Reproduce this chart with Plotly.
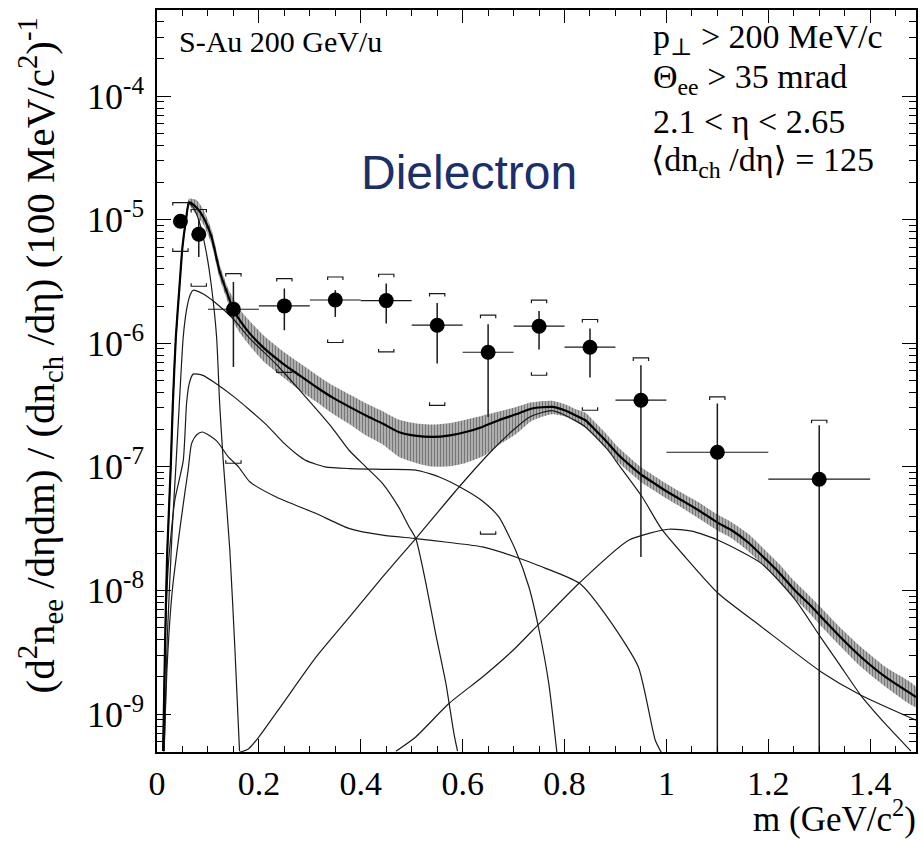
import plotly.graph_objects as go

# ---------------- data ----------------
# measured dielectron yield, values given as log10
mass = [0.046, 0.082, 0.15, 0.25, 0.35, 0.45, 0.55, 0.65, 0.75, 0.85, 0.95, 1.1, 1.3]
mass_halfwidth = [0, 0, 0.05, 0.05, 0.05, 0.05, 0.05, 0.05, 0.05, 0.05, 0.05, 0.1, 0.1]
yield_log10 = [-5.013, -5.118, -5.725, -5.698, -5.650, -5.655, -5.854, -6.073,
               -5.862, -6.032, -6.461, -6.882, -7.100]
stat_hi_log10 = [-5.013, -4.99, -5.504, -5.557, -5.571, -5.517, -5.674, -5.846,
                 -5.739, -5.881, -6.178, -6.488, -6.663]
stat_lo_log10 = [-5.013, -5.302, -6.192, -5.895, -5.787, -5.841, -6.164, -6.596,
                 -6.051, -6.278, -7.729, -10.0, -10.0]
sys_hi_log10 = [-4.862, -4.918, -5.436, -5.477, -5.464, -5.442, -5.598, -5.773,
                -5.652, -5.808, -6.119, -6.434, -6.623]
sys_lo_log10 = [-5.256, -5.539, -6.971, -6.235, -5.994, -6.070, -6.502, -7.545,
                -6.259, -6.542, None, None, None]

# total cocktail (thick line) and its shaded band
total_m = [0.012, 0.016, 0.02, 0.027, 0.031, 0.037, 0.044, 0.05, 0.057, 0.063,
           0.077, 0.091, 0.107, 0.123, 0.14, 0.149, 0.165, 0.182, 0.21, 0.247,
           0.28, 0.3125, 0.345, 0.378, 0.41, 0.443, 0.4755, 0.51, 0.541, 0.575,
           0.606, 0.64, 0.671, 0.705, 0.736, 0.7756, 0.80, 0.82, 0.841, 0.86,
           0.88, 0.905, 0.932, 0.952, 0.975, 0.997, 1.03, 1.063, 1.102, 1.128,
           1.16, 1.193, 1.22, 1.252, 1.28, 1.304, 1.34, 1.382, 1.43, 1.49]
total_log10 = [-9.3, -8.4, -7.7, -7.0, -6.5, -5.95, -5.55, -5.22, -5.0, -4.86,
               -4.90, -4.98, -5.14, -5.42, -5.62, -5.72, -5.83, -5.92, -6.04, -6.164,
               -6.26, -6.354, -6.44, -6.515, -6.585, -6.65, -6.72, -6.75, -6.758, -6.745,
               -6.718, -6.675, -6.623, -6.575, -6.528, -6.515, -6.542, -6.58, -6.623, -6.70,
               -6.785, -6.90, -7.0, -7.068, -7.13, -7.189, -7.27, -7.351, -7.455, -7.513,
               -7.61, -7.74, -7.85, -7.998, -8.11, -8.214, -8.37, -8.538, -8.70, -8.862]
band_up_dex = [0.03, 0.03, 0.03, 0.03, 0.03, 0.03, 0.03, 0.03, 0.03, 0.03,
               0.06, 0.06, 0.06, 0.06, 0.06, 0.09, 0.09, 0.1, 0.1, 0.1,
               0.1, 0.1, 0.1, 0.1, 0.1, 0.1, 0.1, 0.1, 0.1, 0.1,
               0.1, 0.09, 0.07, 0.06, 0.05, 0.05, 0.05, 0.05, 0.06, 0.06,
               0.06, 0.06, 0.06, 0.06, 0.06, 0.06, 0.06, 0.065, 0.065, 0.065,
               0.07, 0.07, 0.07, 0.07, 0.07, 0.075, 0.075, 0.08, 0.08, 0.08]
band_dn_dex = [0.03, 0.03, 0.03, 0.03, 0.03, 0.03, 0.03, 0.03, 0.03, 0.03,
               0.06, 0.06, 0.06, 0.06, 0.06, 0.1, 0.1, 0.1, 0.11, 0.11,
               0.12, 0.12, 0.13, 0.14, 0.16, 0.17, 0.2, 0.22, 0.24, 0.25,
               0.25, 0.24, 0.2, 0.16, 0.1, 0.06, 0.05, 0.05, 0.06, 0.06,
               0.06, 0.06, 0.06, 0.06, 0.06, 0.06, 0.06, 0.065, 0.065, 0.065,
               0.07, 0.07, 0.07, 0.07, 0.07, 0.075, 0.075, 0.08, 0.08, 0.08]

# individual cocktail contributions (thin lines)
pi0_m = [0.012, 0.016, 0.02, 0.027, 0.031, 0.037, 0.044, 0.05, 0.057, 0.063,
         0.071, 0.084, 0.097, 0.107, 0.117, 0.123, 0.13, 0.143, 0.153, 0.162]
pi0_log10 = [-9.3, -8.4, -7.7, -7.0, -6.5, -5.95, -5.55, -5.22, -5.0, -4.87,
             -4.90, -5.03, -5.27, -5.545, -5.95, -6.49, -6.95, -7.675, -8.48, -9.3]

eta_m = [0.014, 0.02, 0.03, 0.037, 0.045, 0.0515, 0.058, 0.065, 0.071, 0.09,
         0.117, 0.149, 0.182, 0.234, 0.28, 0.345, 0.378, 0.41, 0.443, 0.475,
         0.495, 0.508, 0.528, 0.547, 0.567, 0.583, 0.59]
eta_log10 = [-9.3, -8.4, -7.5, -7.0, -6.4, -5.95, -5.73, -5.61, -5.571, -5.60,
             -5.68, -5.80, -5.96, -6.17, -6.38, -6.69, -6.87, -7.0, -7.135, -7.33,
             -7.486, -7.58, -7.944, -8.35, -8.75, -9.16, -9.3]

c3_m = [0.0124, 0.0157, 0.022, 0.035, 0.0515, 0.058, 0.063, 0.071, 0.09, 0.117,
        0.15, 0.182, 0.215, 0.247, 0.275, 0.293, 0.33, 0.378, 0.45, 0.508,
        0.554, 0.606, 0.64, 0.671, 0.704, 0.73, 0.75, 0.769, 0.785]
c3_log10 = [-9.3, -8.48, -7.81, -7.27, -6.95, -6.49, -6.33, -6.25, -6.26, -6.33,
            -6.43, -6.54, -6.66, -6.80, -6.90, -6.95, -7.0, -7.014, -7.02, -7.027,
            -7.082, -7.189, -7.28, -7.405, -7.675, -7.97, -8.32, -8.75, -9.31]

c4_m = [0.014, 0.02, 0.03, 0.045, 0.055, 0.061, 0.068, 0.078, 0.089, 0.117,
        0.14, 0.16, 0.182, 0.234, 0.3125, 0.378, 0.443, 0.508, 0.57, 0.639,
        0.704, 0.75, 0.83, 0.893, 0.945, 0.978, 0.99]
c4_log10 = [-9.3, -8.6, -8.0, -7.5, -7.2, -7.03, -6.81, -6.74, -6.718, -6.79,
            -6.92, -7.0, -7.12, -7.244, -7.378, -7.5, -7.553, -7.58, -7.61, -7.648,
            -7.729, -7.80, -7.944, -8.268, -8.619, -9.21, -9.31]

rho_m = [0.162, 0.18, 0.2, 0.247, 0.3125, 0.378, 0.443, 0.508, 0.593, 0.658,
         0.70, 0.73, 0.756, 0.775, 0.80, 0.841, 0.886, 0.9, 0.952, 0.99,
         1.037, 1.102, 1.187, 1.304, 1.382, 1.49]
rho_log10 = [-9.31, -9.28, -9.185, -8.915, -8.538, -8.214, -7.89, -7.58, -7.163, -6.866,
             -6.70, -6.6, -6.56, -6.545, -6.58, -6.677, -6.866, -6.947, -7.24, -7.50,
             -7.73, -8.025, -8.295, -8.659, -8.848, -9.05]

c6_m = [0.469, 0.508, 0.573, 0.639, 0.70, 0.75, 0.828, 0.926, 1.004, 1.05,
        1.102, 1.187, 1.252, 1.303, 1.34, 1.382, 1.43, 1.48]
c6_log10 = [-9.3, -9.185, -8.915, -8.70, -8.48, -8.27, -7.944, -7.594, -7.505, -7.52,
            -7.594, -7.783, -8.07, -8.38, -8.60, -8.85, -9.08, -9.3]

y_tick_exponents = [-9, -8, -7, -6, -5, -4]
x_tick_values = [0, 0.2, 0.4, 0.6, 0.8, 1, 1.2, 1.4]
x_tick_labels = ["0", "0.2", "0.4", "0.6", "0.8", "1", "1.2", "1.4"]


def lin(vals):
    return [None if v is None else 10 ** v for v in vals]


SERIF = "'Liberation Serif', 'Times New Roman', Tinos, Times, 'DejaVu Serif', serif"
SANS = "'Liberation Sans', Arial, Helvetica, sans-serif"
INK = "#1a1a1a"

fig = go.Figure()

# shaded band around the total
band_upper = [10 ** (t + u) for t, u in zip(total_log10, band_up_dex)]
band_lower = [10 ** (t - d) for t, d in zip(total_log10, band_dn_dex)]
fig.add_trace(go.Scatter(
    x=total_m + total_m[::-1], y=band_upper + band_lower[::-1],
    mode="lines", fill="toself", line=dict(width=0, shape="spline", smoothing=0.6),
    fillcolor="rgba(120,120,120,0.6)",
    fillpattern=dict(shape="|", size=3, solidity=0.5, fgcolor="rgba(30,30,30,0.9)",
                     bgcolor="rgba(150,150,150,0.6)"),
    hoverinfo="skip", showlegend=False))

# thin component lines
for cm, cl in [(pi0_m, pi0_log10), (eta_m, eta_log10), (c3_m, c3_log10),
               (c4_m, c4_log10), (rho_m, rho_log10), (c6_m, c6_log10)]:
    fig.add_trace(go.Scatter(x=cm, y=lin(cl), mode="lines",
                             line=dict(color=INK, width=1.2, shape="spline", smoothing=0.6),
                             showlegend=False, hoverinfo="skip"))

# total
fig.add_trace(go.Scatter(x=total_m, y=lin(total_log10), mode="lines",
                         line=dict(color="black", width=2.2, shape="spline", smoothing=0.6),
                         showlegend=False, hoverinfo="skip"))

# systematic brackets
w = 0.015
hook = 10 ** (3.0 / 123.6)
bx, by = [], []
for m, hi, lo in zip(mass, sys_hi_log10, sys_lo_log10):
    if hi is not None:
        h = 10 ** hi
        bx += [m - w, m - w, m + w, m + w, None]
        by += [h / hook, h, h, h / hook, None]
    if lo is not None:
        l = 10 ** lo
        bx += [m - w, m - w, m + w, m + w, None]
        by += [l * hook, l, l, l * hook, None]
fig.add_trace(go.Scatter(x=bx, y=by, mode="lines", line=dict(color=INK, width=1.2),
                         showlegend=False, hoverinfo="skip", connectgaps=False))

# data points with statistical errors
yv = lin(yield_log10)
err_plus = [10 ** h - y for h, y in zip(stat_hi_log10, yv)]
err_minus = [y - 10 ** l for l, y in zip(stat_lo_log10, yv)]
fig.add_trace(go.Scatter(
    x=mass, y=yv, mode="markers",
    marker=dict(color="black", size=15),
    error_y=dict(type="data", array=err_plus, arrayminus=err_minus, symmetric=False,
                 color=INK, thickness=1.5, width=0),
    error_x=dict(type="data", array=mass_halfwidth, color=INK, thickness=1.2, width=0),
    showlegend=False, hoverinfo="skip"))

fig.update_layout(
    width=923, height=841,
    margin=dict(l=157, r=5, t=10, b=89),
    paper_bgcolor="white", plot_bgcolor="white",
    font=dict(family=SERIF, color="black", size=30),
    showlegend=False,
)
fig.update_xaxes(
    range=[0, 1.49], showgrid=False, zeroline=False,
    showline=True, linecolor="black", linewidth=1.5, mirror="allticks",
    ticks="inside", ticklen=13, tickwidth=1.2, tickcolor="black",
    tickvals=x_tick_values, ticktext=x_tick_labels,
    tickfont=dict(family=SERIF, size=34), ticklabelstandoff=0,
    minor=dict(dtick=0.05, tick0=0, ticks="inside", ticklen=6, tickcolor="black", showgrid=False),
)
fig.update_yaxes(
    type="log", range=[-9.307, -3.304], showgrid=False, zeroline=False,
    showline=True, linecolor="black", linewidth=1.5, mirror="allticks",
    ticks="inside", ticklen=14, tickwidth=1.2, tickcolor="black",
    tickvals=[10 ** e for e in y_tick_exponents],
    ticktext=["10<sup>%d</sup>" % e for e in y_tick_exponents],
    tickfont=dict(family=SERIF, size=36), ticklabelstandoff=4,
    minor=dict(ticks="inside", ticklen=7, tickcolor="black", showgrid=False, dtick="D1"),
)


def px(x):
    return (x - 157) / 761.5


def py(y):
    return (751.7 - y) / 741.7


ann = [
    dict(text="S-Au 200 GeV/u", x=px(177), y=py(41), xanchor="left", yanchor="middle",
         font=dict(family=SERIF, size=30)),
    dict(text="p<sub>⊥</sub> > 200 MeV/c", x=px(653), y=py(39), xanchor="left", yanchor="middle",
         font=dict(family=SERIF, size=34)),
    dict(text="Θ<sub>ee</sub> > 35 mrad", x=px(653), y=py(79), xanchor="left", yanchor="middle",
         font=dict(family=SERIF, size=34)),
    dict(text="2.1 < η < 2.65", x=px(653), y=py(121), xanchor="left", yanchor="middle",
         font=dict(family=SERIF, size=34)),
    dict(text="⟨dn<sub>ch</sub> /dη⟩ = 125", x=px(651), y=py(162), xanchor="left", yanchor="middle",
         font=dict(family=SERIF, size=34)),
    dict(text="Dielectron", x=px(470), y=py(172), xanchor="center", yanchor="middle",
         font=dict(family=SANS, size=48, color="#1b2f6b")),
    dict(text="m (GeV/c<sup>2</sup>)", x=px(921), y=py(816), xanchor="right", yanchor="middle",
         font=dict(family=SERIF, size=35)),
    dict(text="(d<sup>2</sup>n<sub>ee</sub> /dηdm) / (dn<sub>ch</sub> /dη) (100 MeV/c<sup>2</sup>)<sup>-1</sup>",
         x=px(40), y=py(355), xanchor="center", yanchor="middle", textangle=-90,
         font=dict(family=SERIF, size=41)),
]
for a in ann:
    a.update(xref="paper", yref="paper", showarrow=False)
fig.update_layout(annotations=ann)

fig.write_html("out.html")
